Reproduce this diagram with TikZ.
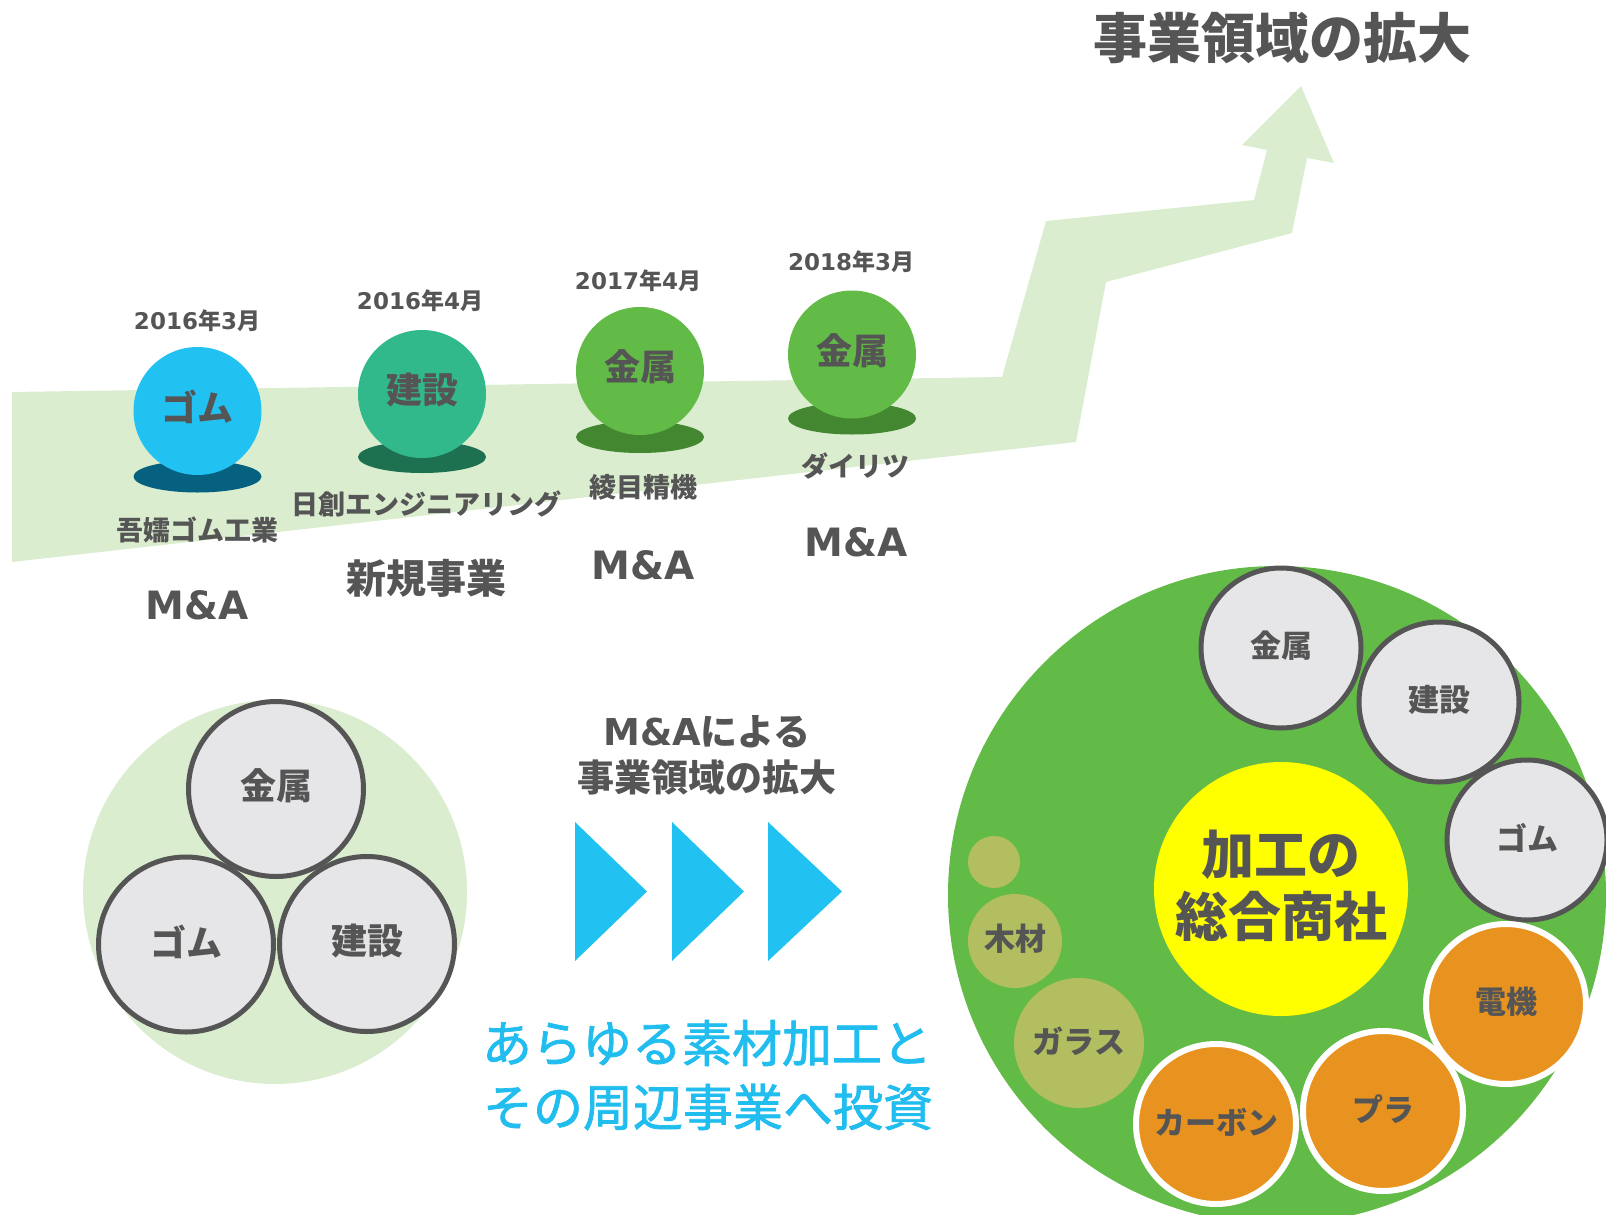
\documentclass[tikz,border=0pt]{standalone}
\usepackage{fontspec}
\setmainfont{Noto Sans CJK JP}
\newfontfamily\lat{DejaVu Sans}
\newfontfamily\jpmed{Noto Sans CJK JP}[FakeBold=1.5]
\definecolor{txt}{HTML}{555555}
\definecolor{band}{HTML}{DAEDCF}
\definecolor{cyanb}{HTML}{21C1F1}
\definecolor{cyans}{HTML}{05617F}
\definecolor{tealb}{HTML}{31B98C}
\definecolor{teals}{HTML}{1E7150}
\definecolor{greenb}{HTML}{62BB46}
\definecolor{greens}{HTML}{438730}
\definecolor{grayf}{HTML}{E6E6E8}
\definecolor{orangef}{HTML}{E8931F}
\definecolor{olivef}{HTML}{B3BE60}
\definecolor{bluet}{HTML}{21BDEE}
\definecolor{yell}{HTML}{FFFF00}
\tikzset{
  lbl/.style={font=\bfseries\fontsize{#1}{#1}\selectfont, text=txt, inner sep=0pt},
  blue/.style={font=\jpmed\fontsize{50}{50}\selectfont, text=bluet, inner sep=0pt},
  ball/.style={circle, minimum size=128, inner sep=0pt},
  gball/.style={circle, fill=grayf, draw=txt, line width=5, minimum size=#1, inner sep=0pt},
  oball/.style={circle, fill=orangef, draw=white, line width=6, minimum size=160, inner sep=0pt},
  vball/.style={circle, fill=olivef, minimum size=#1, inner sep=0pt},
}
\newcommand{\dte}[2]{{\lat #1}年{\lat #2}月}
\begin{document}
\begin{tikzpicture}[x=1pt,y=-1pt]
\useasboundingbox (0,0) rectangle (1606,1215);
\clip (0,0) rectangle (1606,1215);
% band arrow
\fill[band] (12,392) -- (1002,377) -- (1046,221) -- (1254,200) -- (1267,150) -- (1242,145)
  -- (1301,86) -- (1334,163) -- (1307,158) -- (1292,233) -- (1106,282) -- (1076,442)
  -- (12,562) -- cycle;
\node[lbl=54] (title) at (1282,38) {事業領域の拡大};
% timeline
\fill[cyans] (197.5,476.5) ellipse [x radius=64, y radius=16];
\fill[teals] (422,457) ellipse [x radius=64, y radius=16];
\fill[greens] (640,437) ellipse [x radius=64, y radius=16];
\fill[greens] (852,418.5) ellipse [x radius=64, y radius=16];
\node[ball, fill=cyanb] (b1) at (197.5,411) {};
\node[ball, fill=tealb] (b2) at (422,394) {};
\node[ball, fill=greenb] (b3) at (640,371) {};
\node[ball, fill=greenb] (b4) at (852,354.5) {};
\node[lbl=36] (b1t) at ([yshift=4pt]b1.center) {ゴム};
\node[lbl=36] (b2t) at ([yshift=4pt]b2.center) {建設};
\node[lbl=36] (b3t) at ([yshift=4pt]b3.center) {金属};
\node[lbl=36] (b4t) at ([yshift=4pt]b4.center) {金属};
\node[lbl=23] (d1) at (197,321) {\dte{2016}{3}};
\node[lbl=23] (d2) at (420,301) {\dte{2016}{4}};
\node[lbl=23] (d3) at (638,281) {\dte{2017}{4}};
\node[lbl=23] (d4) at (851,262) {\dte{2018}{3}};
\node[lbl=27] (c1) at (197,530) {吾嬬ゴム工業};
\node[lbl=27] (c2) at (426,504) {日創エンジニアリング};
\node[lbl=27] (c3) at (643,487) {綾目精機};
\node[lbl=27] (c4) at (855,466) {ダイリツ};
\node[lbl=39] (k1) at (197,605) {\lat M\&A};
\node[lbl=40] (k2) at (426,578) {新規事業};
\node[lbl=39] (k3) at (643,565) {\lat M\&A};
\node[lbl=39] (k4) at (856,542) {\lat M\&A};
% bottom left group
\node[circle, fill=band, minimum size=384, inner sep=0pt] (grp) at (275,892) {};
\node[gball=175] (g1) at (276,789) {};
\node[gball=175] (g2) at (186,944.5) {};
\node[gball=175] (g3) at (367,944) {};
\node[lbl=36] (g1t) at ([yshift=3pt]g1.center) {金属};
\node[lbl=36] (g2t) at ([yshift=3pt]g2.center) {ゴム};
\node[lbl=36] (g3t) at ([yshift=3pt]g3.center) {建設};
% middle
\node[lbl=37] (m1) at (707,732) {{\lat M\&A}による};
\node[lbl=37] (m2) at (707,777) {事業領域の拡大};
\fill[cyanb] (575,822) -- (647,891.5) -- (575,961) -- cycle;
\fill[cyanb] (672,822) -- (744,891.5) -- (672,961) -- cycle;
\fill[cyanb] (768,822) -- (842,891.5) -- (768,961) -- cycle;
\node[blue] (s1) at (707,1043) {あらゆる素材加工と};
\node[blue] (s2) at (708,1107) {その周辺事業へ投資};
% right group
\node[circle, fill=greenb, minimum size=658, inner sep=0pt] (big) at (1277,895) {};
\node[circle, fill=yell, minimum size=254, inner sep=0pt] (core) at (1281,889) {};
\node[lbl=53, align=center, font=\bfseries\fontsize{53}{62}\selectfont] (coret) at ([yshift=3pt]core.center) {加工の\\総合商社};
\node[gball=160] (r1) at (1281,648) {};
\node[gball=160] (r2) at (1439,702) {};
\node[gball=160] (r3) at (1527,840) {};
\node[oball] (o1) at (1506,1004) {};
\node[oball] (o2) at (1383,1111) {};
\node[oball] (o3) at (1216,1124) {};
\node[vball=130] (v1) at (1079,1043) {};
\node[vball=94] (v2) at (1015,941) {};
\node[vball=52] (v3) at (994,862) {};
\node[lbl=31] (r1t) at ([yshift=2pt]r1.center) {金属};
\node[lbl=31] (r2t) at ([yshift=2pt]r2.center) {建設};
\node[lbl=31] (r3t) at ([yshift=2pt]r3.center) {ゴム};
\node[lbl=31] (o1t) at ([yshift=2pt]o1.center) {電機};
\node[lbl=31] (o2t) at ([yshift=2pt]o2.center) {プラ};
\node[lbl=31] (o3t) at ([yshift=2pt]o3.center) {カーボン};
\node[lbl=31] (v1t) at ([yshift=2pt]v1.center) {ガラス};
\node[lbl=31] (v2t) at ([yshift=2pt]v2.center) {木材};
\end{tikzpicture}
\end{document}
